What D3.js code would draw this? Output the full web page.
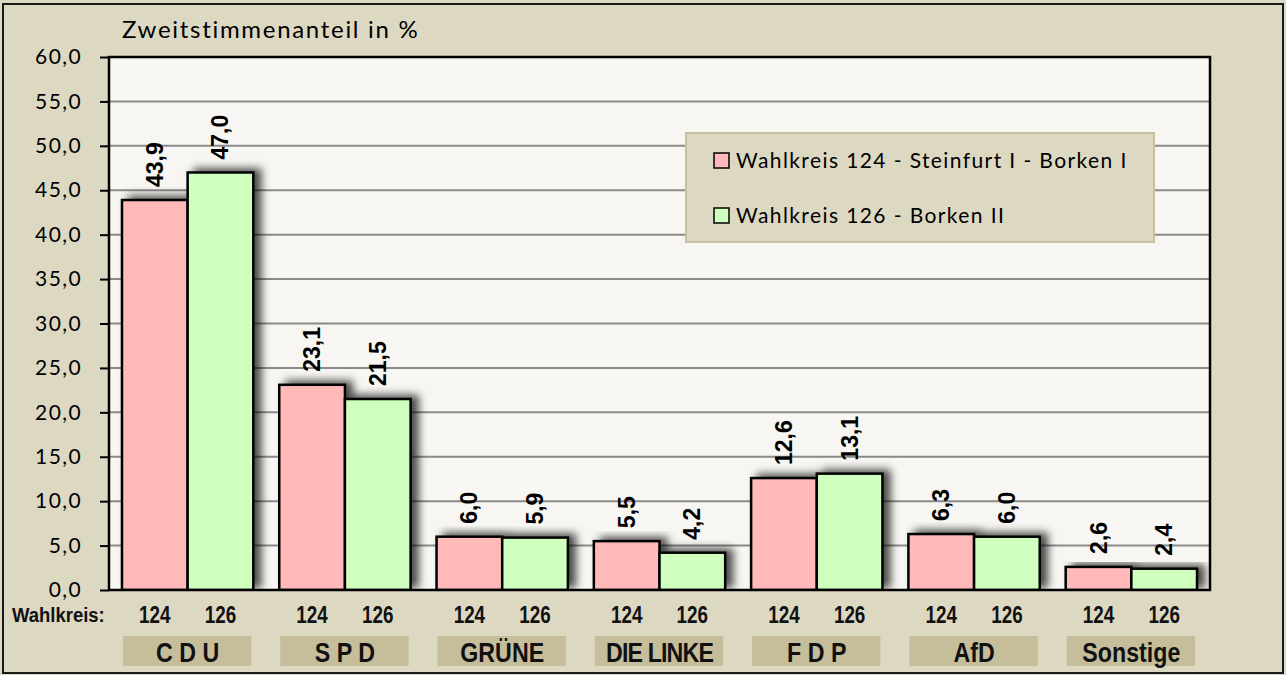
<!DOCTYPE html>
<html><head><meta charset="utf-8">
<script src="https://cdn.jsdelivr.net/npm/d3@7"></script>
<style>
html,body{margin:0;padding:0;background:#DDD8C2;}
svg{display:block;}
</style></head>
<body>
<svg id="chart" width="1286" height="675"></svg>
<script>
const parties = ["C D U","S P D","GRÜNE","DIE LINKE","F D P","AfD","Sonstige"];
const seriesKeys = ["124","126"];
const seriesNames = ["Wahlkreis 124 - Steinfurt I - Borken I","Wahlkreis 126 - Borken II"];
const values124 = [43.9,23.1,6.0,5.5,12.6,6.3,2.6];
const values126 = [47.0,21.5,5.9,4.2,13.1,6.0,2.4];
const yTicks = [0,5,10,15,20,25,30,35,40,45,50,55,60];
const colors = ["#FFB9B9","#CFFFBF"];

const svg = d3.select("#chart");
const fmt = v => d3.format(".1f")(v).replace(".",",");
const sansFont = "Lato, 'Open Sans', sans-serif";
const boldFont = "'Liberation Sans',Arial,sans-serif";

// outer frame
svg.append("rect").attr("x",3).attr("y",4).attr("width",1280).attr("height",669)
  .attr("fill","#DDD8C2").attr("stroke","#1a1a1a").attr("stroke-width",2);

const plot = {l:109,r:1210,t:57,b:590};
const x0 = d3.scaleBand().domain(parties).range([plot.l,plot.r]).paddingInner(0.165).paddingOuter(0.0825);
const x1 = d3.scaleBand().domain(seriesKeys).range([0,x0.bandwidth()]);
const y = d3.scaleLinear().domain([0,60]).range([plot.b,plot.t]);

const defs = svg.append("defs");
const f = defs.append("filter").attr("id","sh").attr("x","-20%").attr("y","-20%").attr("width","160%").attr("height","140%");
f.append("feDropShadow").attr("dx",7).attr("dy",-3).attr("stdDeviation",4.5).attr("flood-color","#000").attr("flood-opacity",0.7);
const clip = defs.append("clipPath").attr("id","pc");
clip.append("rect").attr("x",plot.l).attr("y",plot.t).attr("width",plot.r-plot.l).attr("height",plot.b-plot.t);

// plot bg
svg.append("rect").attr("x",plot.l).attr("y",plot.t).attr("width",plot.r-plot.l).attr("height",plot.b-plot.t).attr("fill","#F7F6F2");

// gridlines
svg.append("g").selectAll("line").data(yTicks.filter(d=>d>0 && d<60)).join("line")
  .attr("x1",plot.l).attr("x2",plot.r).attr("y1",d=>y(d)).attr("y2",d=>y(d))
  .attr("stroke","#8a8a8a").attr("stroke-width",2);

// y axis
const yAxis = d3.axisLeft(y).tickValues(yTicks).tickFormat(fmt).tickSize(9).tickPadding(18);
const ya = svg.append("g").attr("transform",`translate(${plot.l},0)`).call(yAxis);
ya.select(".domain").remove();
ya.selectAll(".tick line").attr("stroke","#000").attr("stroke-width",2);
ya.selectAll(".tick text").attr("font-family",sansFont).attr("font-size",21).attr("letter-spacing","1.4px").attr("fill","#000");

// bars
const data = parties.map((p,i)=>({p, vals:[{k:"124",v:values124[i]},{k:"126",v:values126[i]}]}));
const barsG = svg.append("g").attr("clip-path","url(#pc)");
const grp = barsG.selectAll("g.grp").data(data).join("g").attr("class","grp")
  .attr("transform",d=>`translate(${x0(d.p)},0)`);
const inner = grp.append("g").attr("filter","url(#sh)");
inner.selectAll("rect").data(d=>d.vals).join("rect")
  .attr("x",d=>x1(d.k)).attr("width",x1.bandwidth())
  .attr("y",d=>y(d.v)).attr("height",d=>y(0)-y(d.v))
  .attr("fill",(d,i)=>colors[i]).attr("stroke","#000").attr("stroke-width",2.5);

// plot border
svg.append("rect").attr("x",plot.l).attr("y",plot.t).attr("width",plot.r-plot.l).attr("height",plot.b-plot.t)
  .attr("fill","none").attr("stroke","#000").attr("stroke-width",2.5);

// value labels
grp.selectAll("text.val").data(d=>d.vals).join("text").attr("class","val")
  .attr("transform",d=>`translate(${x1(d.k)+x1.bandwidth()/2+8},${y(d.v)-13}) rotate(-90)`)
  .attr("font-family",boldFont).attr("font-weight","bold").attr("font-size",23)
  .attr("fill","#000").text(d=>fmt(d.v));

// Wahlkreis row
svg.append("text").attr("transform","translate(12,622) scale(0.88,1)").attr("font-family",boldFont).attr("font-weight","bold")
  .attr("font-size",21).attr("fill","#111").text("Wahlkreis:");
const lab = svg.append("g").selectAll("g").data(parties).join("g").attr("transform",d=>`translate(${x0(d)},0)`);
lab.selectAll("text.wk").data(seriesKeys).join("text").attr("class","wk")
  .attr("transform",k=>`translate(${x1(k)+x1.bandwidth()/2},623) scale(0.82,1)`).attr("text-anchor","middle")
  .attr("font-family",boldFont).attr("font-weight","bold").attr("font-size",23).attr("fill","#111").text(k=>k);
lab.append("rect").attr("x",1).attr("y",636).attr("width",x0.bandwidth()-3).attr("height",30).attr("fill","#C6BE9B");
lab.append("text").attr("transform",`translate(${x0.bandwidth()/2},662) scale(0.86,1)`).attr("text-anchor","middle")
  .attr("font-family",boldFont).attr("font-weight","bold").attr("font-size",27).attr("fill","#111")
  .attr("letter-spacing",d=>d==="DIE LINKE"?"-1px":"0")
  .text(d=>d);

// title
svg.append("text").attr("x",122).attr("y",38).attr("font-family",sansFont).attr("font-size",24).attr("letter-spacing","1.7px").attr("fill","#000")
  .text("Zweitstimmenanteil in %");

// legend
const lg = svg.append("g");
lg.append("rect").attr("x",686).attr("y",133).attr("width",468).attr("height",109)
  .attr("fill","#DDD8C2").attr("stroke","#C8C09E").attr("stroke-width",2);
const li = lg.selectAll("g.li").data(seriesNames).join("g").attr("class","li")
  .attr("transform",(d,i)=>`translate(714,${161+i*55})`);
li.append("rect").attr("x",0).attr("y",-8).attr("width",15).attr("height",15)
  .attr("fill",(d,i)=>colors[i]).attr("stroke","#000").attr("stroke-width",1.5);
li.append("text").attr("x",22).attr("y",7).attr("font-family",sansFont).attr("font-size",21).attr("letter-spacing","1.4px").attr("fill","#000").text(d=>d);
</script>
</body></html>
